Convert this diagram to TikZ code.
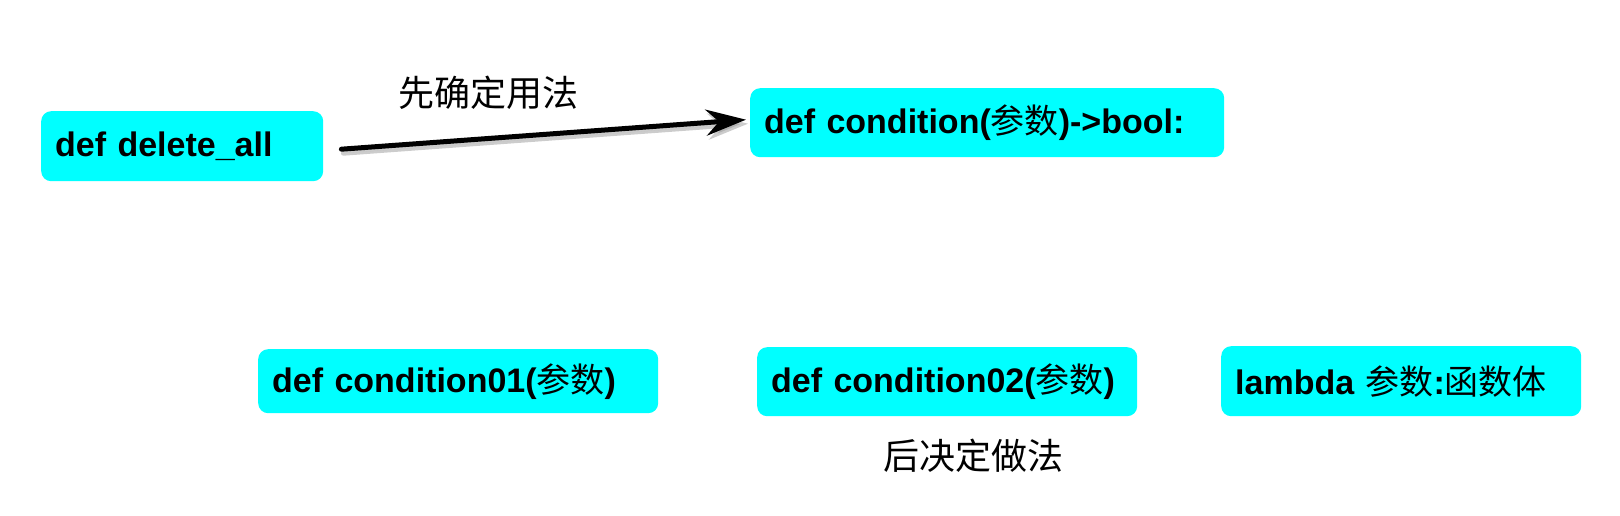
\documentclass[tikz,border=0pt]{standalone}
\usepackage{fontspec}
\setmainfont{Liberation Sans}
\newfontfamily\cjk{Noto Sans CJK SC}
\usetikzlibrary{arrows.meta}
\definecolor{boxcyan}{RGB}{0,255,255}
\tikzset{
  codebox/.style={fill=boxcyan, rounded corners=10pt, anchor=north west, inner xsep=14pt,
    align=left, font=\fontsize{34}{40}\selectfont\bfseries},
  note/.style={font=\fontsize{36}{42}\selectfont\cjk\light},
  bigarrow/.style={line width=5pt, line cap=round, -{Stealth[length=40pt,width=26pt]}},
}
\providecommand\light{}
\begin{document}
\begin{tikzpicture}[x=1pt,y=-1pt]
\useasboundingbox (0,0) rectangle (1620,516);
\node[codebox, minimum width=282pt, minimum height=70pt, text width=254pt] (da) at (41,111) {def delete\_all};
\node[codebox, minimum width=474pt, minimum height=69pt, text width=446pt] (cb) at (750,88) {def condition({\cjk\mdseries 参数})->bool:};
\node[codebox, minimum width=400pt, minimum height=64pt, text width=372pt] (c1) at (258,349) {def condition01({\cjk\mdseries 参数})};
\node[codebox, minimum width=380pt, minimum height=69pt, text width=352pt] (c2) at (757,347) {def condition02({\cjk\mdseries 参数})};
\node[codebox, minimum width=360pt, minimum height=70pt, text width=332pt] (lm) at (1221,346) {lambda {\cjk\mdseries 参数}:{\cjk\mdseries 函数体}};
\node[note] (n1) at (488,93) {先确定用法};
\node[note] (n2) at (973,456) {后决定做法};
\path (da.east) ++(18,3) coordinate (a0);
\path (cb.west) ++(-4,-3) coordinate (a1);
\draw[bigarrow, draw=black!40, fill=black!40, opacity=0.5] ([shift={(2,4)}]a0) -- ([shift={(2,4)}]a1);
\draw[bigarrow] (a0) -- (a1);
\end{tikzpicture}
\end{document}
